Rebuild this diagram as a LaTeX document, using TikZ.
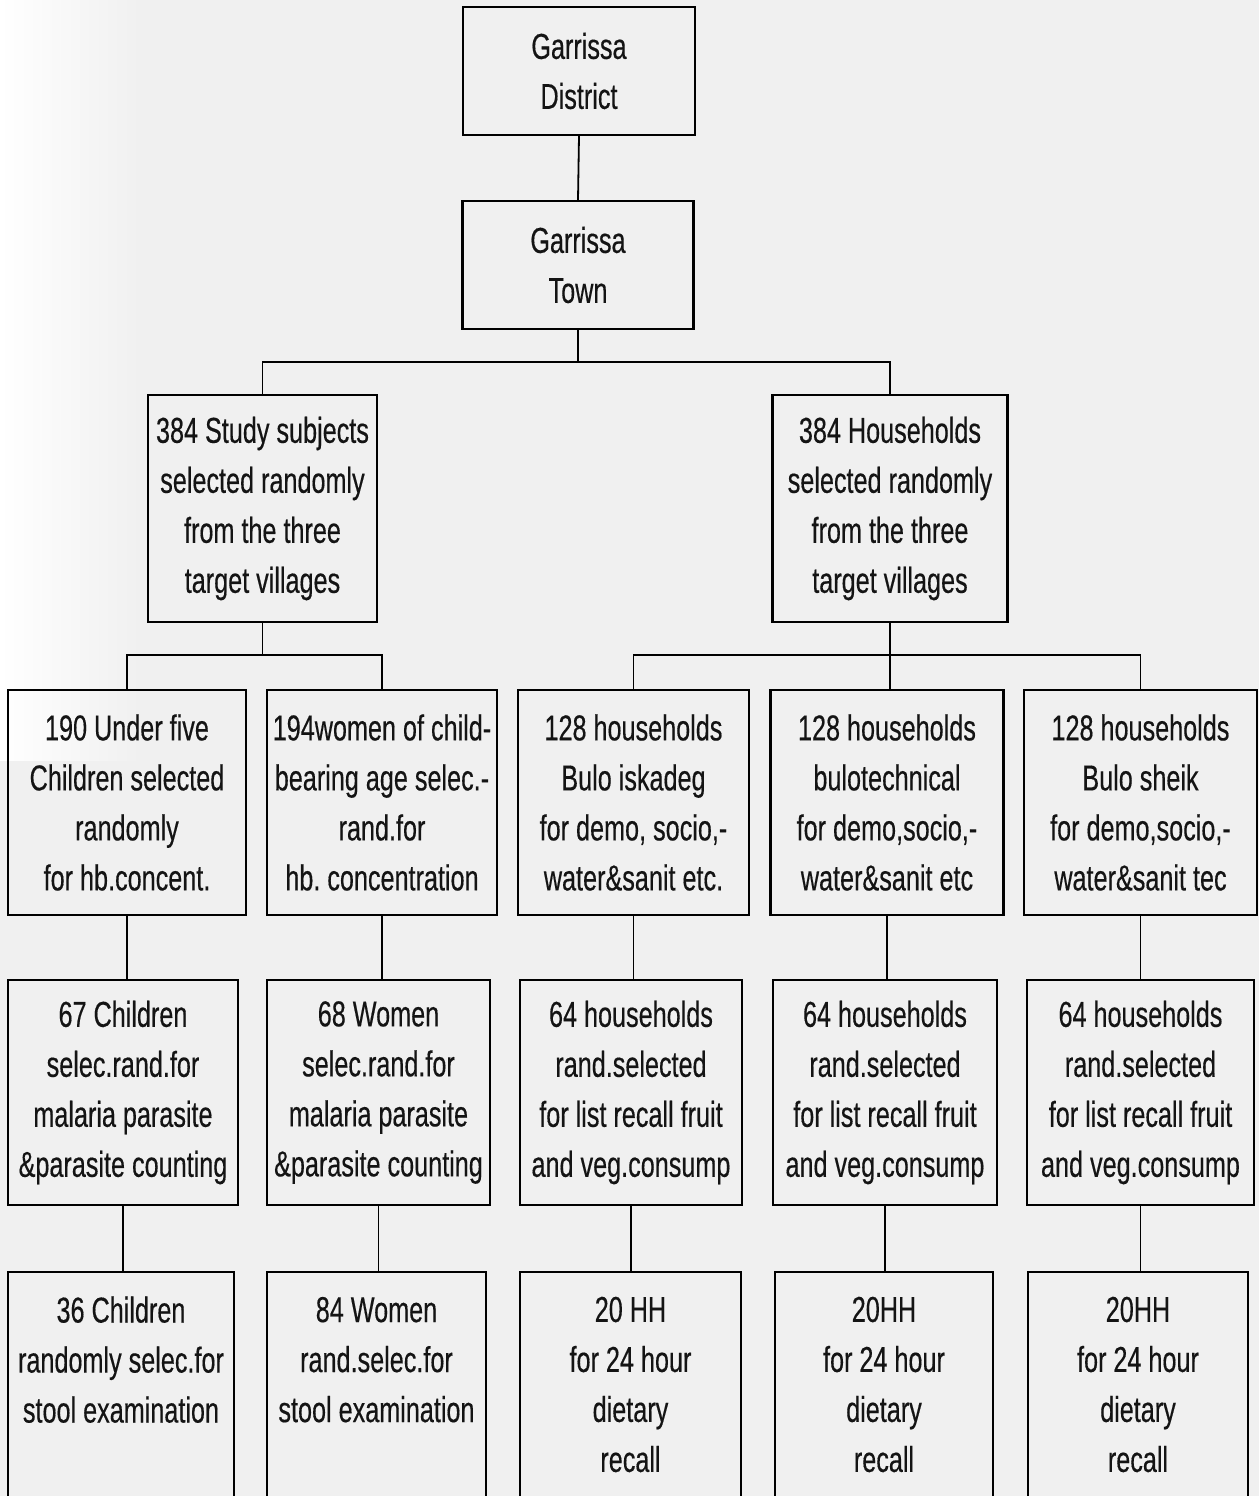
\documentclass[tikz,border=0pt]{standalone}
\usepackage{fontspec}
\setmainfont{Liberation Sans}[FakeStretch=0.70,FakeBold=0.35]
\definecolor{bgc}{RGB}{240,240,240}
\definecolor{txt}{RGB}{20,20,20}
\frenchspacing
\begin{document}
\begin{tikzpicture}[x=0.5pt,y=-0.5pt,
  bx/.style={draw=black, line width=1.1pt, inner sep=0pt, align=center,
    text=txt, font=\fontsize{18}{25}\selectfont\frenchspacing},
  conn/.style={draw=black, line width=0.9pt}]
\useasboundingbox (0,0) rectangle (1259,1496);
\fill[bgc] (0,0) rectangle (1259,1496);
\shade[left color=white, right color=bgc] (0,0) rectangle (140,760);
% level 1-2
\node[bx, minimum width=116pt, minimum height=64pt] (dist) at (579,71) {Garrissa\\District};
\node[bx, minimum width=115.5pt, minimum height=64pt] (town) at (578,265) {Garrissa\\Town};
% level 3
\node[bx, minimum width=114.5pt, minimum height=113.5pt] (subj) at (262.5,508.5) {384 Study subjects\\selected randomly\\from the three\\target villages};
\node[bx, minimum width=117.5pt, minimum height=113.5pt] (hh) at (890,508.5) {384 Households\\selected randomly\\from the three\\target villages};
% row 3
\node[bx, minimum width=119pt, minimum height=112.5pt] (a3) at (127,802.5) {190 Under five\\Children selected\\randomly\\for hb.concent.};
\node[bx, minimum width=115pt, minimum height=112.5pt] (b3) at (382,802.5) {194women of child-\\bearing age selec.-\\rand.for\\hb. concentration};
\node[bx, minimum width=115.5pt, minimum height=112.5pt] (c3) at (633.5,802.5) {128 households\\Bulo iskadeg\\for demo, socio,-\\water\&sanit etc.};
\node[bx, minimum width=116.5pt, minimum height=112.5pt] (d3) at (887,802.5) {128 households\\bulotechnical\\for demo,socio,-\\water\&sanit etc};
\node[bx, minimum width=116.5pt, minimum height=112.5pt] (e3) at (1140.5,802.5) {128 households\\Bulo sheik\\for demo,socio,-\\water\&sanit tec};
% row 4
\node[bx, minimum width=115pt, minimum height=112.5pt] (a4) at (123,1092.5) {67 Children\\selec.rand.for\\malaria parasite\\\&parasite counting};
\node[bx, minimum width=111.5pt, minimum height=112.5pt] (b4) at (378.5,1092.5) {68 Women\\selec.rand.for\\malaria parasite\\\&parasite counting};
\node[bx, minimum width=111pt, minimum height=112.5pt] (c4) at (631,1092.5) {64 households\\rand.selected\\for list recall fruit\\and veg.consump};
\node[bx, minimum width=112pt, minimum height=112.5pt] (d4) at (885,1092.5) {64 households\\rand.selected\\for list recall fruit\\and veg.consump};
\node[bx, minimum width=113.5pt, minimum height=112.5pt] (e4) at (1140.5,1092.5) {64 households\\rand.selected\\for list recall fruit\\and veg.consump};
% row 5
\node[bx, minimum width=113pt, minimum height=112.5pt] (a5) at (121,1384.5) {36 Children\\randomly selec.for\\stool examination\\\phantom{l}};
\node[bx, minimum width=109.5pt, minimum height=112.5pt] (b5) at (376.5,1384.5) {84 Women\\rand.selec.for\\stool examination\\\phantom{l}};
\node[bx, minimum width=110.5pt, minimum height=112.5pt] (c5) at (630.5,1384.5) {20 HH\\for 24 hour\\dietary\\recall};
\node[bx, minimum width=109pt, minimum height=112.5pt] (d5) at (884,1384.5) {20HH\\for 24 hour\\dietary\\recall};
\node[bx, minimum width=110pt, minimum height=112.5pt] (e5) at (1138,1384.5) {20HH\\for 24 hour\\dietary\\recall};
% connectors
\coordinate (j1) at (578,362);
\coordinate (j2) at (0,655);
\draw[conn] (dist.south) -- (town.north);
\draw[conn] (town.south) -- (j1);
\draw[conn] (subj.north) -- (subj.north |- j1) -- (hh.north |- j1) -- (hh.north);
\draw[conn] (subj.south) -- (subj.south |- j2);
\draw[conn] (a3.north) -- (a3.north |- j2) -- (b3.north |- j2) -- (b3.north);
\draw[conn] (hh.south) -- (hh.south |- d3.north);
\draw[conn] (c3.north) -- (c3.north |- j2) -- (e3.north |- j2) -- (e3.north);
\foreach \u/\l in {a3/a4,b3/b4,c3/c4,d3/d4,e3/e4,a4/a5,b4/b5,c4/c5,d4/d5,e4/e5}{
  \draw[conn] (\u.south) -- (\u.south |- \l.north);
}
\end{tikzpicture}
\end{document}
